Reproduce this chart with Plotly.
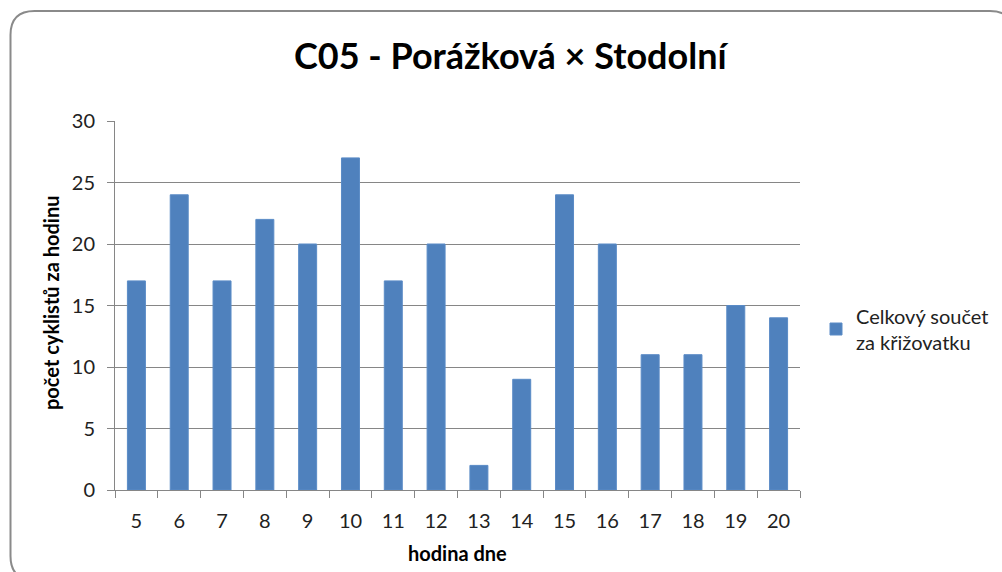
import plotly.graph_objects as go

W, H = 1002, 572

hours = ["5", "6", "7", "8", "9", "10", "11", "12", "13", "14", "15", "16", "17", "18", "19", "20"]
counts = [17, 24, 17, 22, 20, 27, 17, 20, 2, 9, 24, 20, 11, 11, 15, 14]
series_name = "Celkový součet<br>za křižovatku"
title_text = "C05 - Porážková × Stodolní"
x_title = "hodina dne"
y_title = "počet cyklistů za hodinu"
y_ticks = [0, 5, 10, 15, 20, 25, 30]

FONT = "Lato, 'Open Sans', sans-serif"
AX = "#868686"

def px(x):
    return x / W

def py(y):
    return 1 - y / H

# plot area in pixels
L, R, T, B = 115, 800, 121, 490

fig = go.Figure()
fig.add_trace(go.Bar(
    x=hours, y=counts, name=series_name,
    marker=dict(color="#4F81BD", line=dict(color="#5A8BC6", width=1)),
    showlegend=True,
))

# rounded border box
x0, y0, x1, y1, r = 10.5, 11, 1014, 580, 24
path = (f"M {px(x0+r)},{py(y0)} L {px(x1-r)},{py(y0)} Q {px(x1)},{py(y0)} {px(x1)},{py(y0+r)} "
        f"L {px(x1)},{py(y1-r)} Q {px(x1)},{py(y1)} {px(x1-r)},{py(y1)} "
        f"L {px(x0+r)},{py(y1)} Q {px(x0)},{py(y1)} {px(x0)},{py(y1-r)} "
        f"L {px(x0)},{py(y0+r)} Q {px(x0)},{py(y0)} {px(x0+r)},{py(y0)} Z")

fig.update_layout(
    autosize=True,
    margin=dict(l=0, r=0, t=0, b=0, pad=0, autoexpand=False),
    paper_bgcolor="white", plot_bgcolor="white",
    font=dict(family=FONT, color="#222222", size=16),
    bargap=0.58,
    shapes=[dict(type="path", path=path, xref="paper", yref="paper",
                 line=dict(color="#8a8a8a", width=2), layer="below")],
    xaxis=dict(domain=[px(L), px(R)], type="category", automargin=False,
               showline=True, linecolor=AX, linewidth=1,
               ticks="outside", tickson="boundaries", ticklen=7, tickcolor=AX,
               ticklabelstandoff=13,
               tickfont=dict(size=20), showgrid=False),
    yaxis=dict(domain=[py(B), py(T)], range=[0, 30], tickvals=y_ticks, automargin=False,
               showline=True, linecolor=AX, linewidth=1,
               ticks="outside", ticklen=7, tickcolor=AX,
               ticklabelstandoff=8,
               gridcolor=AX, gridwidth=1, zeroline=False,
               tickfont=dict(size=20)),
    legend=dict(x=px(816), y=py(329), xanchor="left", yanchor="middle",
                font=dict(size=20), bgcolor="rgba(0,0,0,0)",
                itemwidth=30),
    annotations=[
        dict(text=f"<b>{title_text}</b>", x=px(511), y=py(55), xref="paper", yref="paper",
             xanchor="center", yanchor="middle",
             showarrow=False, font=dict(size=36, color="black", family=FONT)),
        dict(text=f"<b>{x_title}</b>", x=px(457), y=py(553), xref="paper", yref="paper",
             xanchor="center", yanchor="middle",
             showarrow=False, font=dict(size=20, color="black", family=FONT)),
        dict(text=f"<b>{y_title}</b>", x=px(51), y=py(303), xref="paper", yref="paper",
             xanchor="center", yanchor="middle",
             showarrow=False, textangle=-90, font=dict(size=20, color="black", family=FONT)),
    ],
)

fig.write_html("out.html",
               default_width="100vw", default_height="100vh",
               config=dict(displayModeBar=False, responsive=True),
               post_script="document.body.style.margin='0';document.body.style.overflow='hidden';")
